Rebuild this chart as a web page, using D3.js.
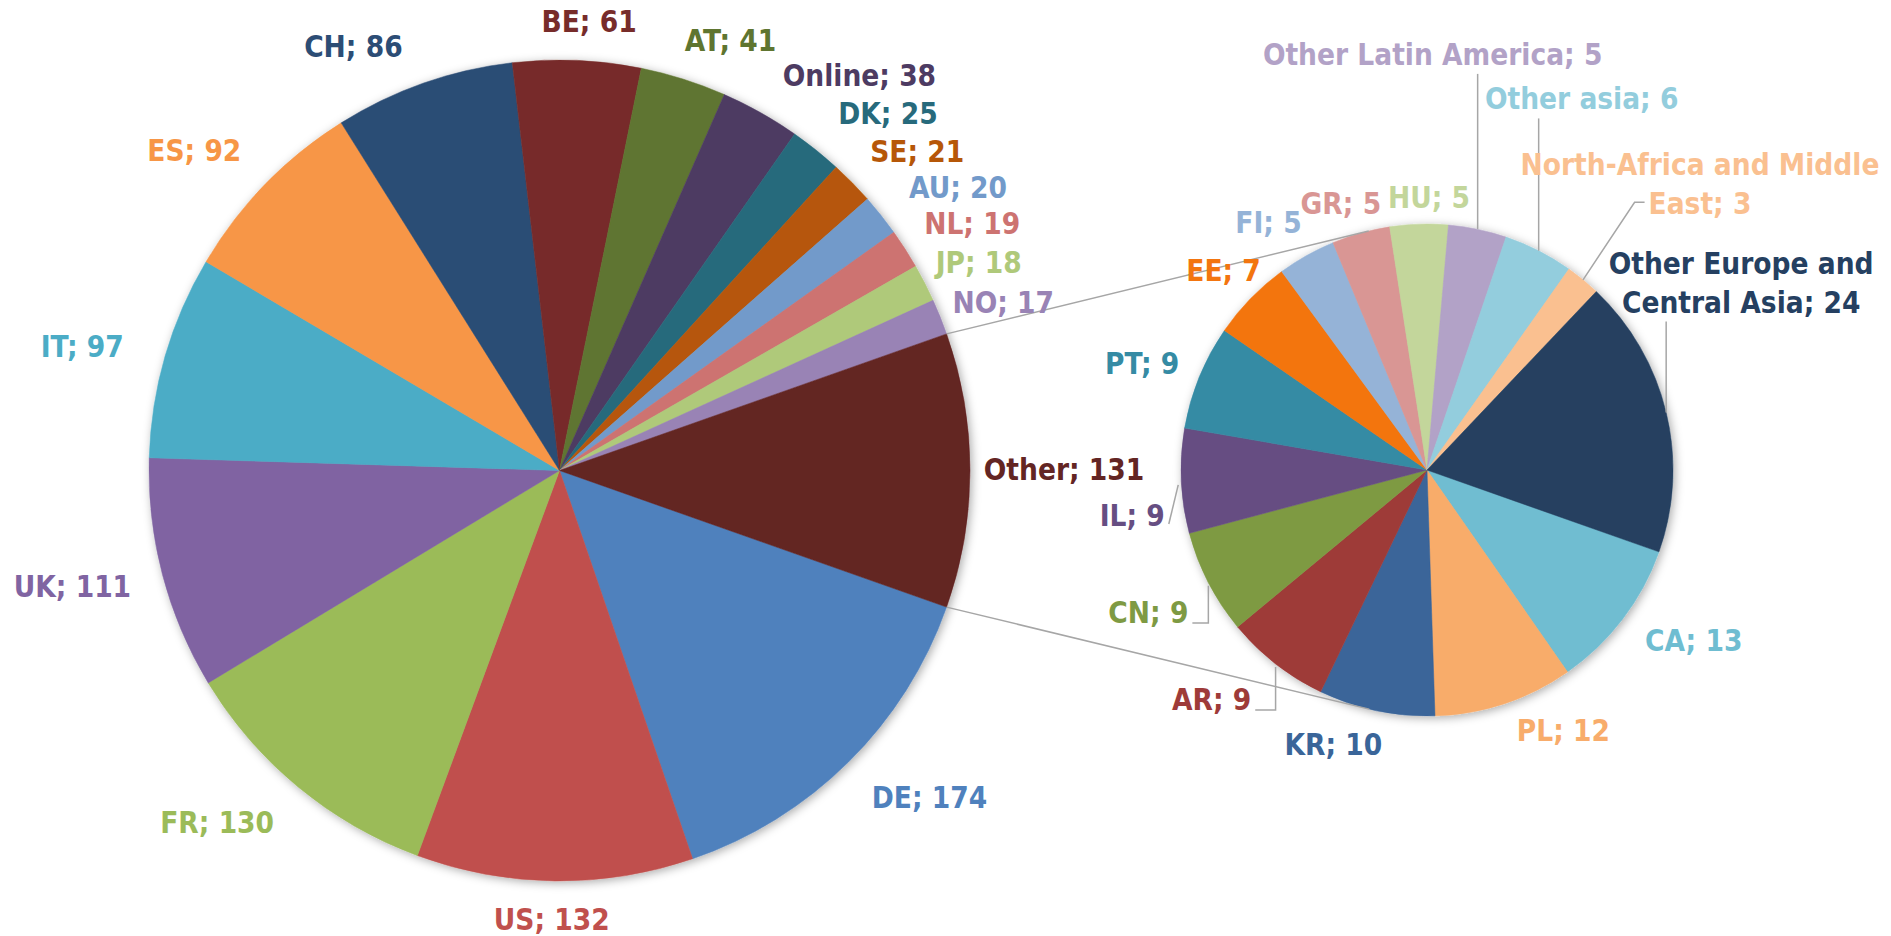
<!DOCTYPE html>
<html>
<head>
<meta charset="utf-8">
<script src="https://cdn.jsdelivr.net/npm/d3@7"></script>
<style>
  html, body { margin: 0; padding: 0; background: #ffffff; }
  svg { display: block; }
  text.lbl { font-family: "DejaVu Sans Condensed", "DejaVu Sans", sans-serif; font-weight: bold; font-size: 29.5px; }
</style>
</head>
<body>
<svg id="chart" width="1891" height="936"></svg>
<script>
// Countries shown in the main pie
const mainCategories = ["DE", "US", "FR", "UK", "IT", "ES", "CH", "BE", "AT", "Online", "DK", "SE", "AU", "NL", "JP", "NO"];
const mainValues = [174, 132, 130, 111, 97, 92, 86, 61, 41, 38, 25, 21, 20, 19, 18, 17];
const mainColors = ["#4F81BD", "#C0504D", "#9BBB59", "#8064A2", "#4BACC6", "#F79646", "#2C4D75", "#772C2A",
                    "#5F7530", "#4D3B62", "#276A7C", "#B65708", "#729ACA", "#CD7371", "#AFC97A", "#9983B5"];

// Countries grouped into "Other" and broken out in the secondary pie
const otherName = "Other";
const otherColor = "#632523";
const restCategories = ["CA", "PL", "KR", "AR", "CN", "IL", "PT", "EE", "FI", "GR", "HU",
                        "Other Latin America", "Other asia", "North-Africa and Middle East", "Other Europe and Central Asia"];
const restValues = [13, 12, 10, 9, 9, 9, 9, 7, 5, 5, 5, 5, 6, 3, 24];
const restColors = ["#6FBDD1", "#F8AC6B", "#3A6599", "#9E3B39", "#7E9A43", "#664E82", "#358BA4", "#F3750F",
                    "#95B3D7", "#D99694", "#C3D69B", "#B2A2C7", "#93CDDD", "#FAC090", "#254061"];

// ---- layout ----
const mainGeo = { cx: 559.5, cy: 470.5, r: 410.5 };
const restGeo = { cx: 1427, cy: 470, r: 246 };
const leaderColor = "#A6A6A6";

// label centre offsets from the slice's outer mid point
const labelOffset = {
  "DE": [81, 35], "US": [-3, 38], "FR": [-81, 35], "UK": [-90, 12], "IT": [-83, -10], "ES": [-71, -34],
  "CH": [-70, -37], "BE": [12, -39], "AT": [47, -39], "Online": [99, -37], "DK": [72, -37], "SE": [65, -31],
  "AU": [77, -28], "NL": [67, -26], "JP": [54, -21], "NO": [63, -15], "Other": [94, -1],
  "CA": [71, 21], "PL": [59, 27], "KR": [-43, 34], "AR": [-64, 36], "CN": [-60, 30], "IL": [-49, 34],
  "PT": [-57, -14], "EE": [-27, -28], "FI": [-38, -33], "GR": [-20, -30], "HU": [10, -27],
  "Other Latin America": [-45, -175], "Other asia": [43, -152],
  "North-Africa and Middle East": [117, -96], "Other Europe and Central Asia": [75, -130]
};
// wrapping width for long labels
const wrapWidth = { "North-Africa and Middle East": 400, "Other Europe and Central Asia": 290 };
const lineHeight = 39;
// leader line style per label
const leaderType = {
  "Other Latin America": "down", "Other asia": "down", "Other Europe and Central Asia": "down",
  "North-Africa and Middle East": "hookLeft", "IL": "straight", "CN": "elbow", "AR": "elbow"
};

const svg = d3.select("#chart");
const defs = svg.append("defs");
const f = defs.append("filter").attr("id", "pieShadow")
  .attr("x", "-10%").attr("y", "-10%").attr("width", "120%").attr("height", "120%");
f.append("feDropShadow").attr("dx", 2).attr("dy", 2).attr("stdDeviation", 5)
  .attr("flood-color", "#000").attr("flood-opacity", 0.33);

const otherTotal = d3.sum(restValues);
const mainData = mainCategories.map((c, i) => ({ name: c, value: mainValues[i], color: mainColors[i] }))
  .concat([{ name: otherName, value: otherTotal, color: otherColor }]);
const restData = restCategories.map((c, i) => ({ name: c, value: restValues[i], color: restColors[i] }));
const grandTotal = d3.sum(mainData, d => d.value);

// the "Other" slice is centred on 3 o'clock; both pies start at the same angle
const startAngle = Math.PI / 2 + Math.PI * otherTotal / grandTotal;
const pie = d3.pie().sort(null).value(d => d.value)
  .startAngle(startAngle).endAngle(startAngle + 2 * Math.PI);

const mainArcs = pie(mainData);
const restArcs = pie(restData);

function edgePoint(geo, a) {
  return [geo.cx + geo.r * Math.sin(a), geo.cy - geo.r * Math.cos(a)];
}

function drawPie(geo, arcs) {
  const arc = d3.arc().innerRadius(0).outerRadius(geo.r);
  const g = svg.append("g")
    .attr("transform", `translate(${geo.cx},${geo.cy})`)
    .attr("filter", "url(#pieShadow)");
  g.selectAll("path").data(arcs).join("path")
    .attr("d", arc)
    .attr("fill", d => d.data.color)
    .attr("stroke", d => d.data.color)
    .attr("stroke-width", 0.5);
}

drawPie(mainGeo, mainArcs);
drawPie(restGeo, restArcs);

// series lines joining the "Other" slice to the secondary pie
const otherArc = mainArcs[mainArcs.length - 1];
function tangentPoint(p, geo, upper) {
  const dx = geo.cx - p[0], dy = geo.cy - p[1];
  const d = Math.hypot(dx, dy);
  const theta = Math.atan2(dy, dx);
  const alpha = Math.asin(geo.r / d);
  const L = Math.sqrt(d * d - geo.r * geo.r);
  const dir = upper ? theta - alpha : theta + alpha;
  return [p[0] + L * Math.cos(dir), p[1] + L * Math.sin(dir)];
}
const pTop = edgePoint(mainGeo, otherArc.startAngle);
const pBot = edgePoint(mainGeo, otherArc.endAngle);
const seriesLines = [[pTop, tangentPoint(pTop, restGeo, true)], [pBot, tangentPoint(pBot, restGeo, false)]];
svg.append("g").selectAll("line").data(seriesLines).join("line")
  .attr("x1", d => d[0][0]).attr("y1", d => d[0][1])
  .attr("x2", d => d[1][0]).attr("y2", d => d[1][1])
  .attr("stroke", leaderColor).attr("stroke-width", 1.5);

// data labels
const leaderG = svg.append("g");
const labelG = svg.append("g");

function wrapText(text, maxW, probe) {
  const words = text.split(" ");
  const lines = [];
  let cur = "";
  words.forEach(w => {
    const tryLine = cur ? cur + " " + w : w;
    probe.text(tryLine);
    if (cur && probe.node().getComputedTextLength() > maxW) {
      lines.push(cur);
      cur = w;
    } else {
      cur = tryLine;
    }
  });
  if (cur) lines.push(cur);
  return lines;
}

function drawLabels(geo, arcs) {
  arcs.forEach(a => {
    const name = a.data.name;
    const mid = (a.startAngle + a.endAngle) / 2;
    const edge = edgePoint(geo, mid);
    const off = labelOffset[name] || [0, 0];
    const cx = edge[0] + off[0], cy = edge[1] + off[1];
    const full = `${name}; ${a.data.value}`;
    const t = labelG.append("text").attr("class", "lbl")
      .attr("fill", a.data.color)
      .attr("text-anchor", "middle");
    let lines = [full];
    if (wrapWidth[name]) lines = wrapText(full, wrapWidth[name], t);
    t.text(null);
    const n = lines.length;
    lines.forEach((ln, i) => {
      t.append("tspan")
        .attr("x", cx)
        .attr("y", cy + (i - (n - 1) / 2) * lineHeight)
        .attr("dy", "0.36em")
        .text(ln);
    });

    const type = leaderType[name];
    if (!type) return;
    const bb = t.node().getBBox();
    let pts;
    if (type === "down") {
      pts = [[edge[0], bb.y + bb.height + 2], edge];
    } else if (type === "elbow") {
      const y = bb.y + bb.height * 0.78;
      pts = [[bb.x + bb.width + 4, y], [edge[0], y], [edge[0], edge[1] + 3]];
    } else if (type === "straight") {
      pts = [[bb.x + bb.width + 4, bb.y + bb.height * 0.75], [edge[0] - 3, edge[1] + 4]];
    } else if (type === "hookLeft") {
      const last = t.selectAll("tspan").nodes()[n - 1];
      const lb = last.getBBox();
      const y = lb.y + lb.height * 0.45;
      pts = [[lb.x - 4, y], [lb.x - 14, y], edge];
    }
    leaderG.append("path")
      .attr("d", d3.line()(pts))
      .attr("fill", "none")
      .attr("stroke", leaderColor)
      .attr("stroke-width", 1.5);
  });
}

drawLabels(mainGeo, mainArcs);
drawLabels(restGeo, restArcs);
</script>
</body>
</html>
